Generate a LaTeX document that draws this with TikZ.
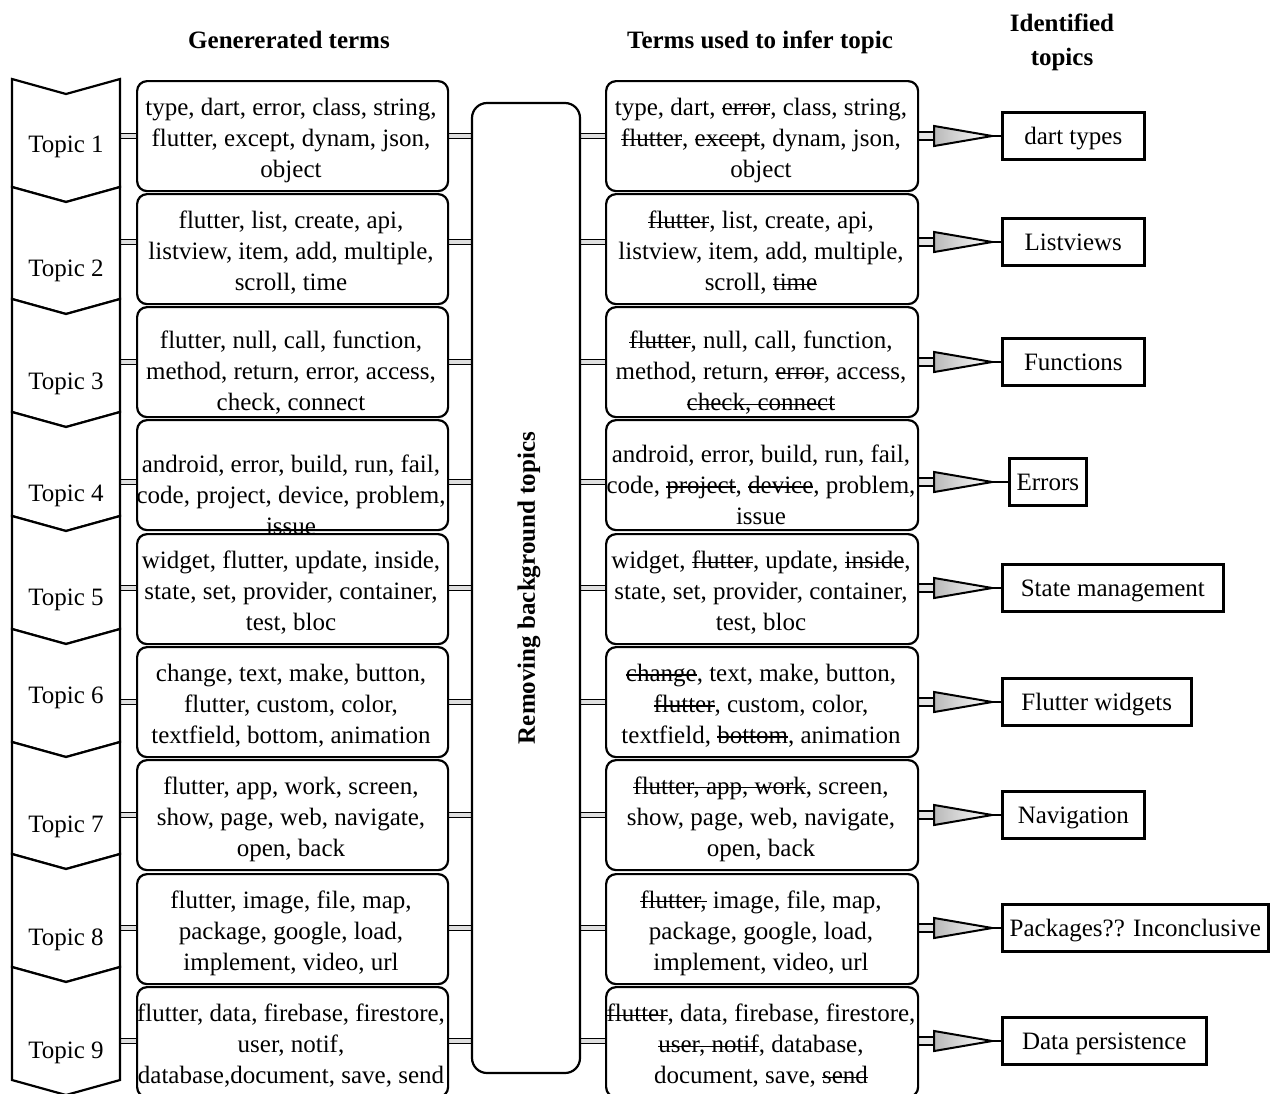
\documentclass[tikz,border=0pt]{standalone}
\usepackage{fontspec}
\setmainfont{Liberation Serif}
\newsavebox\strkbox
\newcommand\strk[1]{\sbox\strkbox{#1}\mbox{\rlap{\rule[0.24em]{\wd\strkbox}{1.3pt}}\usebox\strkbox}}
\usetikzlibrary{calc,backgrounds}
\tikzset{
  x=1pt, y=-1pt,
  termbox/.style={draw, line width=2.2pt, rounded corners=10pt, fill=white, minimum height=110pt, anchor=north west, inner sep=0pt},
  midbox/.style={draw, line width=2.2pt, rounded corners=15pt, fill=white, minimum width=108pt, minimum height=970pt, inner sep=0pt},
  topicbox/.style={draw, line width=2.6pt, fill=white, minimum height=47pt, anchor=west, inner sep=0pt, text height=18pt, text depth=2pt, font=\fontsize{25}{30}\selectfont},
  chev/.style={draw, line width=2.2pt, fill=white, line join=miter},
  txt/.style={align=center, inner sep=0pt, font=\fontsize{25}{31}\selectfont},
  lbl/.style={inner sep=0pt, font=\fontsize{25}{30}\selectfont},
  hdr/.style={align=center, inner sep=0pt, font=\bfseries\fontsize{25}{34}\selectfont},
  dbl/.style={draw, line width=1.7pt, double=gray!25, double distance=3.4pt},
  shaft/.style={draw, line width=1.8pt, double=gray!20, double distance=5.6pt},
  head/.style={draw, line width=2pt, left color=gray!55, right color=white, line join=miter},
}
\begin{document}
\begin{tikzpicture}
\useasboundingbox (0,0) rectangle (1287,1093);

% headers
\node[hdr, anchor=base] (h1) at (289,48) {Genererated terms};
\node[hdr, anchor=base] (h2) at (760,48) {Terms used to infer topic};
\node[hdr] (h3) at (1062,42) {Identified\\topics};

% chevrons
\foreach \i/\t/\b/\ly in {1/79/187/147, 2/187/299/271, 3/299/412/384, 4/412/516/496, 5/516/629/600, 6/629/742/698, 7/742/854/827, 8/854/967/940, 9/967/1080/1053}{
  \path[chev] (12,\t) -- (66,\t+15) -- (120,\t) -- (120,\b) -- (66,\b+15) -- (12,\b) -- cycle;
  \node[lbl] (tp\i) at (66,\ly) {Topic \i};
}

% term boxes
\foreach \i/\top/\y in {1/80/136, 2/193/242, 3/306/362, 4/419/482, 5/533/588, 6/646/702, 7/759/815, 8/873/928, 9/986/1041}{
  \node[termbox, minimum width=311pt] (L\i) at (136,\top) {};
  \node[termbox, minimum width=312pt] (R\i) at (605,\top) {};
  \coordinate (ch\i) at (120,\y);
}
\node[midbox] (M) at (526,588) {};
\node[rotate=90, inner sep=0pt, font=\bfseries\fontsize{25}{30}\selectfont] (mt) at (529,588) {Removing background topics};

% identified topics
\node[topicbox, minimum width=142pt] (T1) at (1001,136) {dart types};
\node[topicbox, minimum width=142pt] (T2) at (1001,242) {Listviews};
\node[topicbox, minimum width=142pt] (T3) at (1001,362) {Functions};
\node[topicbox, minimum width=77pt]  (T4) at (1008,482) {Errors};
\node[topicbox, minimum width=221pt] (T5) at (1001,588) {State management};
\node[topicbox, minimum width=189pt] (T6) at (1001,702) {Flutter widgets};
\node[topicbox, minimum width=142pt] (T7) at (1001,815) {Navigation};
\node[topicbox, minimum width=266pt] (T8) at (1001,928) {Packages?? Inconclusive};
\node[topicbox, minimum width=204pt] (T9) at (1001,1041) {Data persistence};

% connectors
\begin{scope}[on background layer]
\foreach \i in {1,...,9}{
  \draw[dbl] (ch\i) -- (L\i.west |- ch\i);
  \draw[dbl] (L\i.east |- ch\i) -- (M.west |- ch\i);
  \draw[dbl] (M.east |- ch\i) -- (R\i.west |- ch\i);
  \draw[shaft] (R\i.east |- ch\i) -- ($(R\i.east |- ch\i)+(17,0)$);
  \draw[line width=1.2pt] ($(R\i.east |- ch\i)+(70,0)$) -- (T\i.west);
}
\end{scope}
\foreach \i in {1,...,9}{
  \path[head] ($(R\i.east |- ch\i)+(15,-10)$) -- ($(R\i.east |- ch\i)+(73,0)$) -- ($(R\i.east |- ch\i)+(15,10)$) -- cycle;
}

% left texts
\node[txt] (lt1) at (291,140) {type, dart, error, class, string,\\flutter, except, dynam, json,\\object};
\node[txt] (lt2) at (291,253) {flutter, list, create, api,\\listview, item, add, multiple,\\scroll, time};
\node[txt] (lt3) at (291,373) {flutter, null, call, function,\\method, return, error, access,\\check, connect};
\node[txt] (lt4) at (291,495) {android, error, build, run, fail,\\code, project, device, problem,\\issue};
\node[txt] (lt5) at (291,593) {widget, flutter, update, inside,\\state, set, provider, container,\\test, bloc};
\node[txt] (lt6) at (291,706) {change, text, make, button,\\flutter, custom, color,\\textfield, bottom, animation};
\node[txt] (lt7) at (291,819) {flutter, app, work, screen,\\show, page, web, navigate,\\open, back};
\node[txt] (lt8) at (291,933) {flutter, image, file, map,\\package, google, load,\\implement, video, url};
\node[txt] (lt9) at (291,1046) {flutter, data, firebase, firestore,\\user, notif,\\database,document, save, send};

% right texts
\node[txt] (rt1) at (761,140) {type, dart, \strk{error}, class, string,\\\strk{flutter}, \strk{except}, dynam, json,\\object};
\node[txt] (rt2) at (761,253) {\strk{flutter}, list, create, api,\\listview, item, add, multiple,\\scroll, \strk{time}};
\node[txt] (rt3) at (761,373) {\strk{flutter}, null, call, function,\\method, return, \strk{error}, access,\\\strk{check, connect}};
\node[txt] (rt4) at (761,485) {android, error, build, run, fail,\\code, \strk{project}, \strk{device}, problem,\\issue};
\node[txt] (rt5) at (761,593) {widget, \strk{flutter}, update, \strk{inside},\\state, set, provider, container,\\test, bloc};
\node[txt] (rt6) at (761,706) {\strk{change}, text, make, button,\\\strk{flutter}, custom, color,\\textfield, \strk{bottom}, animation};
\node[txt] (rt7) at (761,819) {\strk{flutter, app, work}, screen,\\show, page, web, navigate,\\open, back};
\node[txt] (rt8) at (761,933) {\strk{flutter,} image, file, map,\\package, google, load,\\implement, video, url};
\node[txt] (rt9) at (761,1046) {\strk{flutter}, data, firebase, firestore,\\\strk{user, notif}, database,\\document, save, \strk{send}};
\end{tikzpicture}
\end{document}
